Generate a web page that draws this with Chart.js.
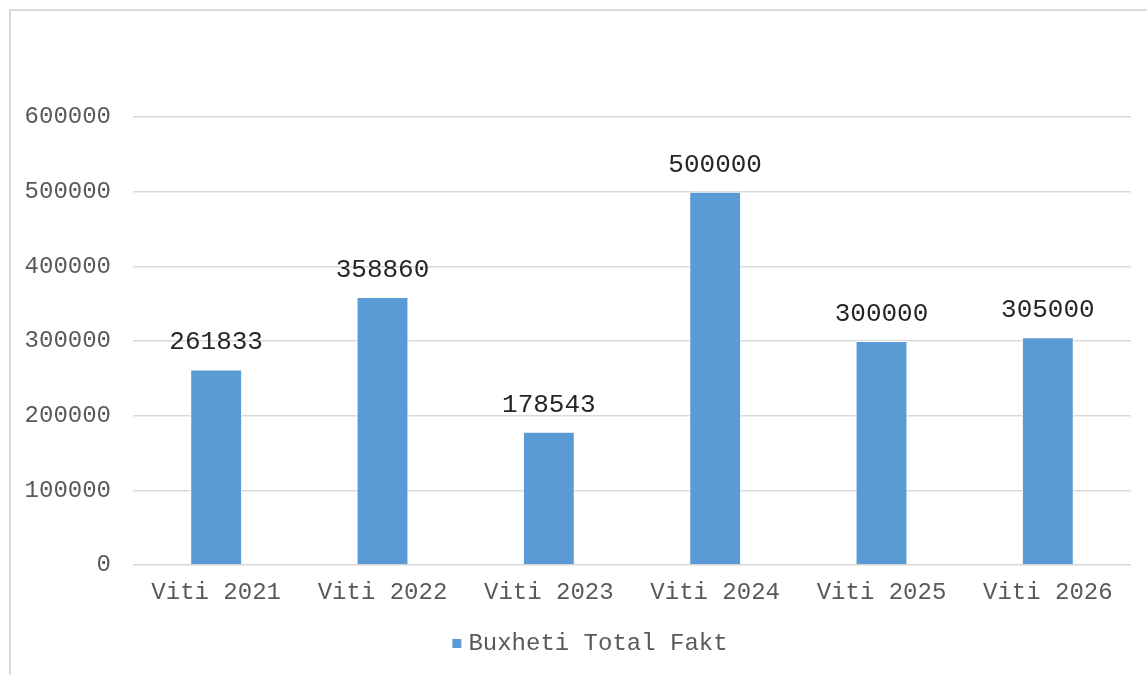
<!DOCTYPE html>
<html lang="sq">
<head>
  <meta charset="UTF-8" />
  <title>Buxheti Total Fakt</title>
  <script src="https://cdn.jsdelivr.net/npm/chart.js"></script>
  <style>
    html, body { margin: 0; padding: 0; background: #fff; }
    #wrap { position: relative; width: 1147px; height: 675px; overflow: hidden; }
    #frame { position: absolute; left: 9px; top: 9px; width: 1200px; height: 700px;
             border-left: 2px solid #d9d9d9; border-top: 2px solid #d9d9d9; box-sizing: border-box; }
    canvas { position: absolute; left: 0; top: 0; }
  </style>
</head>
<body>
  <div id="wrap">
    <div id="frame"></div>
    <canvas id="myChart" width="1147" height="675"></canvas>
  </div>

  <script>
    const vitet = ['Viti 2021', 'Viti 2022', 'Viti 2023', 'Viti 2024', 'Viti 2025', 'Viti 2026'];
    const buxheti = [261833, 358860, 178543, 500000, 300000, 305000];
    const seriaEmri = 'Buxheti Total Fakt';

    const fonti = "'Liberation Mono', 'Courier New', monospace";
    const ngjyra = '#5B9BD5';

    // vlerat mbi shtyllat
    const etiketat = {
      id: 'etiketat',
      afterDatasetsDraw(chart) {
        const ctx = chart.ctx;
        const meta = chart.getDatasetMeta(0);
        ctx.save();
        ctx.font = '26px ' + fonti;
        ctx.fillStyle = '#262626';
        ctx.textAlign = 'center';
        ctx.textBaseline = 'alphabetic';
        meta.data.forEach((bar, i) => {
          ctx.fillText(String(chart.data.datasets[0].data[i]), bar.x, bar.y - 20);
        });
        ctx.restore();
      }
    };

    // legjenda poshte, me katrorin afer tekstit
    const legjenda = {
      id: 'legjenda',
      afterDraw(chart) {
        const ctx = chart.ctx;
        const ds = chart.data.datasets[0];
        ctx.save();
        ctx.font = '24px ' + fonti;
        const w = ctx.measureText(ds.label).width;
        const total = 9 + 7 + w;
        const x0 = 590 - total / 2;
        const yc = 644;
        ctx.fillStyle = ds.backgroundColor;
        ctx.fillRect(x0, yc - 5, 9, 9);
        ctx.fillStyle = '#595959';
        ctx.textBaseline = 'middle';
        ctx.fillText(ds.label, x0 + 16, yc);
        ctx.restore();
      }
    };

    const ctx = document.getElementById('myChart').getContext('2d');
    new Chart(ctx, {
      type: 'bar',
      data: {
        labels: vitet,
        datasets: [{
          label: seriaEmri,
          data: buxheti,
          backgroundColor: ngjyra,
          borderColor: '#ffffff',
          borderWidth: 1,
          categoryPercentage: 0.6,
          barPercentage: 0.52
        }]
      },
      options: {
        responsive: false,
        animation: false,
        layout: { padding: { left: 10, top: 117, right: 16, bottom: 70 } },
        plugins: {
          tooltip: { enabled: false },
          legend: { display: false }
        },
        scales: {
          x: {
            grid: { display: false },
            border: { display: false },
            ticks: { font: { family: fonti, size: 24 }, color: '#595959', padding: 5 },
            afterFit(scale) { scale.height = 40; }
          },
          y: {
            min: 0,
            max: 600000,
            ticks: {
              stepSize: 100000,
              font: { family: fonti, size: 24 },
              color: '#595959',
              padding: 22,
              callback: (v) => String(v)
            },
            grid: { color: '#d9d9d9', lineWidth: 1.5, drawTicks: false },
            border: { display: false },
            afterFit(scale) { scale.width = 123; }
          }
        }
      },
      plugins: [etiketat, legjenda]
    });
  </script>
</body>
</html>
